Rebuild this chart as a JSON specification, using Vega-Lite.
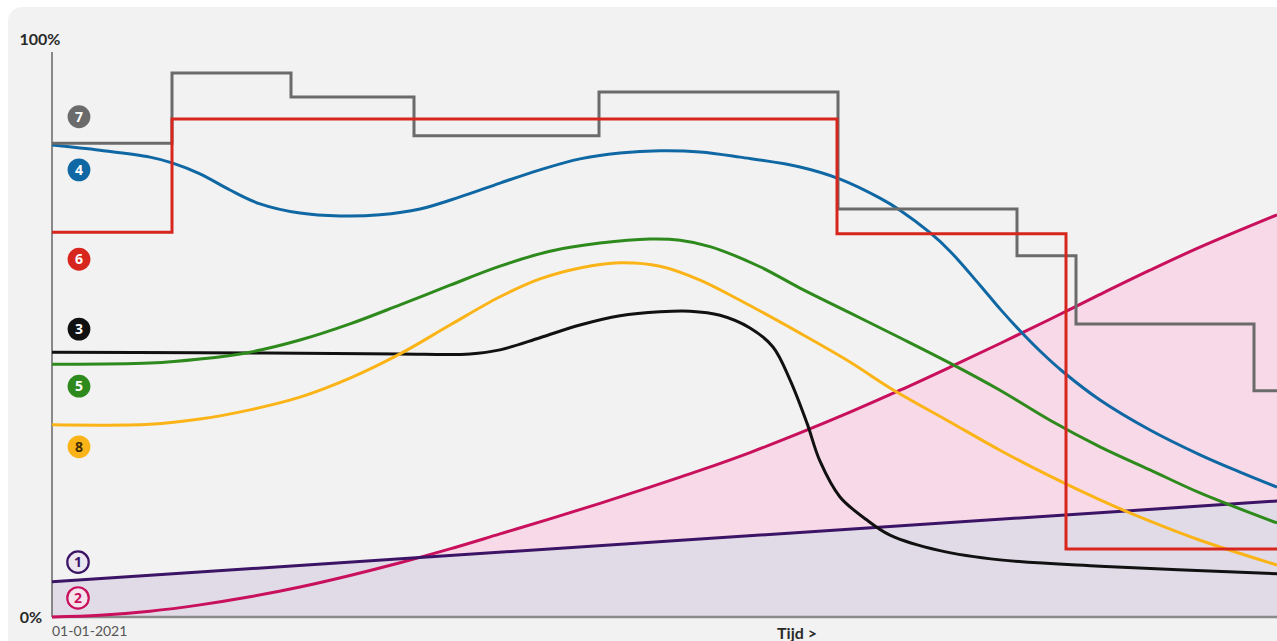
{
  "$schema": "https://vega.github.io/schema/vega-lite/v6.json",
  "width": 1225,
  "height": 577,
  "autosize": {"type": "none"},
  "padding": {"left": 52, "top": 40, "right": 0, "bottom": 24},
  "background": "#ffffff",
  "config": {"view": {"stroke": null}, "font": "Lato"},
  "datasets": {
    "bg": [{"t": -44, "t2": 1260, "v": 105.7, "v2": -6}],
    "steps": [
      {"s": "7", "t": 0, "v": 82.1}, {"s": "7", "t": 120, "v": 94.3}, {"s": "7", "t": 239, "v": 90.1},
      {"s": "7", "t": 362, "v": 83.4}, {"s": "7", "t": 547, "v": 91.0}, {"s": "7", "t": 786, "v": 70.7},
      {"s": "7", "t": 965, "v": 62.6}, {"s": "7", "t": 1024, "v": 50.8}, {"s": "7", "t": 1202, "v": 39.2},
      {"s": "7", "t": 1225, "v": 39.2},
      {"s": "6", "t": 0, "v": 66.7}, {"s": "6", "t": 120, "v": 86.3}, {"s": "6", "t": 785, "v": 66.4},
      {"s": "6", "t": 1014, "v": 11.8}, {"s": "6", "t": 1225, "v": 11.8}
    ],
    "pink": [
      {"s": "2", "t": 0, "v": 0}, {"s": "2", "t": 48, "v": 0.3}, {"s": "2", "t": 98, "v": 1.0},
      {"s": "2", "t": 148, "v": 2.1}, {"s": "2", "t": 198, "v": 3.5}, {"s": "2", "t": 248, "v": 5.2},
      {"s": "2", "t": 298, "v": 7.2}, {"s": "2", "t": 348, "v": 9.4}, {"s": "2", "t": 398, "v": 11.8},
      {"s": "2", "t": 448, "v": 14.4}, {"s": "2", "t": 498, "v": 17.0}, {"s": "2", "t": 548, "v": 19.7},
      {"s": "2", "t": 598, "v": 22.5}, {"s": "2", "t": 648, "v": 25.4}, {"s": "2", "t": 698, "v": 28.5},
      {"s": "2", "t": 748, "v": 31.9}, {"s": "2", "t": 798, "v": 35.5}, {"s": "2", "t": 848, "v": 39.3},
      {"s": "2", "t": 898, "v": 43.3}, {"s": "2", "t": 948, "v": 47.4}, {"s": "2", "t": 998, "v": 51.6},
      {"s": "2", "t": 1048, "v": 55.9}, {"s": "2", "t": 1098, "v": 60.1}, {"s": "2", "t": 1148, "v": 64.1},
      {"s": "2", "t": 1225, "v": 69.7}
    ],
    "purple": [
      {"s": "1", "t": 0, "v": 6.1}, {"s": "1", "t": 1225, "v": 20.1}
    ],
    "curves": [
      {"s": "3", "t": 0, "v": 45.9}, {"s": "3", "t": 148, "v": 45.8}, {"s": "3", "t": 248, "v": 45.7},
      {"s": "3", "t": 348, "v": 45.6}, {"s": "3", "t": 418, "v": 45.6}, {"s": "3", "t": 448, "v": 46.3},
      {"s": "3", "t": 488, "v": 48.4}, {"s": "3", "t": 528, "v": 50.6}, {"s": "3", "t": 568, "v": 52.2},
      {"s": "3", "t": 608, "v": 52.9}, {"s": "3", "t": 638, "v": 53.0}, {"s": "3", "t": 668, "v": 52.3},
      {"s": "3", "t": 698, "v": 50.1}, {"s": "3", "t": 721, "v": 46.8}, {"s": "3", "t": 738, "v": 41.1},
      {"s": "3", "t": 755, "v": 33.6}, {"s": "3", "t": 768, "v": 27.0}, {"s": "3", "t": 788, "v": 20.8},
      {"s": "3", "t": 815, "v": 16.8}, {"s": "3", "t": 838, "v": 14.2}, {"s": "3", "t": 888, "v": 11.5},
      {"s": "3", "t": 948, "v": 9.9}, {"s": "3", "t": 1048, "v": 8.8}, {"s": "3", "t": 1225, "v": 7.5},

      {"s": "8", "t": 0, "v": 33.3}, {"s": "8", "t": 98, "v": 33.4}, {"s": "8", "t": 148, "v": 34.3},
      {"s": "8", "t": 198, "v": 35.9}, {"s": "8", "t": 248, "v": 38.1}, {"s": "8", "t": 298, "v": 41.4},
      {"s": "8", "t": 348, "v": 45.6}, {"s": "8", "t": 398, "v": 50.6}, {"s": "8", "t": 448, "v": 55.5},
      {"s": "8", "t": 488, "v": 58.6}, {"s": "8", "t": 528, "v": 60.5}, {"s": "8", "t": 568, "v": 61.4},
      {"s": "8", "t": 608, "v": 60.8}, {"s": "8", "t": 648, "v": 58.4}, {"s": "8", "t": 688, "v": 54.9},
      {"s": "8", "t": 748, "v": 49.2}, {"s": "8", "t": 798, "v": 44.2}, {"s": "8", "t": 838, "v": 39.7},
      {"s": "8", "t": 898, "v": 33.8}, {"s": "8", "t": 948, "v": 28.9}, {"s": "8", "t": 998, "v": 24.4},
      {"s": "8", "t": 1048, "v": 20.3}, {"s": "8", "t": 1098, "v": 16.6}, {"s": "8", "t": 1148, "v": 13.3},
      {"s": "8", "t": 1225, "v": 9.0},

      {"s": "5", "t": 0, "v": 43.8}, {"s": "5", "t": 98, "v": 44.0}, {"s": "5", "t": 148, "v": 44.7},
      {"s": "5", "t": 198, "v": 45.9}, {"s": "5", "t": 248, "v": 48.0}, {"s": "5", "t": 298, "v": 50.8},
      {"s": "5", "t": 348, "v": 54.1}, {"s": "5", "t": 398, "v": 57.5}, {"s": "5", "t": 448, "v": 60.8},
      {"s": "5", "t": 498, "v": 63.4}, {"s": "5", "t": 548, "v": 64.8}, {"s": "5", "t": 598, "v": 65.5},
      {"s": "5", "t": 628, "v": 65.3}, {"s": "5", "t": 658, "v": 64.2}, {"s": "5", "t": 708, "v": 60.7},
      {"s": "5", "t": 748, "v": 57.0}, {"s": "5", "t": 798, "v": 52.7}, {"s": "5", "t": 848, "v": 48.4},
      {"s": "5", "t": 898, "v": 44.0}, {"s": "5", "t": 948, "v": 39.3}, {"s": "5", "t": 998, "v": 34.1},
      {"s": "5", "t": 1048, "v": 29.5}, {"s": "5", "t": 1098, "v": 25.5}, {"s": "5", "t": 1148, "v": 21.5},
      {"s": "5", "t": 1225, "v": 16.3},

      {"s": "4", "t": 0, "v": 81.8}, {"s": "4", "t": 48, "v": 80.9}, {"s": "4", "t": 98, "v": 79.7},
      {"s": "4", "t": 120, "v": 78.7}, {"s": "4", "t": 148, "v": 76.8}, {"s": "4", "t": 178, "v": 74.0},
      {"s": "4", "t": 208, "v": 71.6}, {"s": "4", "t": 248, "v": 70.0}, {"s": "4", "t": 288, "v": 69.5},
      {"s": "4", "t": 328, "v": 69.7}, {"s": "4", "t": 368, "v": 70.7}, {"s": "4", "t": 408, "v": 72.8},
      {"s": "4", "t": 448, "v": 75.2}, {"s": "4", "t": 488, "v": 77.5}, {"s": "4", "t": 528, "v": 79.4},
      {"s": "4", "t": 568, "v": 80.4}, {"s": "4", "t": 608, "v": 80.8}, {"s": "4", "t": 648, "v": 80.6},
      {"s": "4", "t": 688, "v": 79.7}, {"s": "4", "t": 748, "v": 78.0}, {"s": "4", "t": 788, "v": 75.9},
      {"s": "4", "t": 828, "v": 72.6}, {"s": "4", "t": 848, "v": 70.5}, {"s": "4", "t": 878, "v": 66.6},
      {"s": "4", "t": 898, "v": 63.4}, {"s": "4", "t": 928, "v": 57.5}, {"s": "4", "t": 948, "v": 53.4},
      {"s": "4", "t": 968, "v": 49.6}, {"s": "4", "t": 988, "v": 46.1}, {"s": "4", "t": 1011, "v": 42.5},
      {"s": "4", "t": 1048, "v": 37.6}, {"s": "4", "t": 1098, "v": 32.4}, {"s": "4", "t": 1148, "v": 28.1},
      {"s": "4", "t": 1188, "v": 25.1}, {"s": "4", "t": 1225, "v": 22.5}
    ],
    "labels": [
      {"s": "7", "t": 27, "v": 86.7}, {"s": "4", "t": 27, "v": 77.5}, {"s": "6", "t": 27, "v": 62.0},
      {"s": "3", "t": 27, "v": 49.9}, {"s": "5", "t": 27, "v": 40.0}, {"s": "8", "t": 27, "v": 29.5},
      {"s": "1", "t": 26, "v": 9.5}, {"s": "2", "t": 26, "v": 3.3}
    ],
    "boldNotes": [
      {"label": "100%", "t": -12, "v": 100},
      {"label": "0%", "t": -21, "v": -0.2},
      {"label": "Tijd >", "t": 745, "v": -3.0}
    ],
    "plainNotes": [
      {"label": "01-01-2021", "t": 0, "v": -2.6}
    ],
    "vrule": [{"t": 0, "v": 0, "v2": 97.9}],
    "hrule": [{"t": 0, "t2": 1225, "v": 0}]
  },
  "layer": [
    {
      "data": {"name": "bg"},
      "mark": {"type": "rect", "fill": "#f2f2f2", "cornerRadius": 14},
      "encoding": {
        "x": {"field": "t", "type": "quantitative", "scale": {"domain": [0, 1225], "nice": false, "zero": false}, "axis": null},
        "x2": {"field": "t2"},
        "y": {"field": "v", "type": "quantitative", "scale": {"domain": [0, 100], "nice": false}, "axis": null},
        "y2": {"field": "v2"}
      }
    },
    {
      "data": {"name": "pink"},
      "mark": {"type": "area", "fill": "#f7d9e7", "interpolate": "catmull-rom"},
      "encoding": {
        "x": {"field": "t", "type": "quantitative"},
        "y": {"field": "v", "type": "quantitative"}
      }
    },
    {
      "data": {"name": "purple"},
      "mark": {"type": "area", "fill": "#e1dbe8"},
      "encoding": {
        "x": {"field": "t", "type": "quantitative"},
        "y": {"field": "v", "type": "quantitative"}
      }
    },
    {
      "data": {"name": "vrule"},
      "mark": {"type": "rule", "color": "#666666", "strokeWidth": 1.5},
      "encoding": {
        "x": {"field": "t", "type": "quantitative"},
        "y": {"field": "v", "type": "quantitative"},
        "y2": {"field": "v2"}
      }
    },
    {
      "data": {"name": "hrule"},
      "mark": {"type": "rule", "color": "#8a8a8a", "strokeWidth": 2.5},
      "encoding": {
        "x": {"field": "t", "type": "quantitative"},
        "x2": {"field": "t2"},
        "y": {"field": "v", "type": "quantitative"}
      }
    },
    {
      "data": {"name": "pink"},
      "mark": {"type": "line", "interpolate": "catmull-rom", "strokeWidth": 3},
      "encoding": {
        "x": {"field": "t", "type": "quantitative"},
        "y": {"field": "v", "type": "quantitative"},
        "color": {"field": "s", "type": "nominal", "legend": null,
          "scale": {"domain": ["1","2","3","4","5","6","7","8"], "range": ["#3b1466","#c8105c","#111111","#0f68a3","#2e8a1c","#d7261e","#6b6b6b","#fbb417"]}}
      }
    },
    {
      "data": {"name": "purple"},
      "mark": {"type": "line", "strokeWidth": 3},
      "encoding": {
        "x": {"field": "t", "type": "quantitative"},
        "y": {"field": "v", "type": "quantitative"},
        "color": {"field": "s", "type": "nominal", "legend": null}
      }
    },
    {
      "data": {"name": "curves"},
      "mark": {"type": "line", "interpolate": "catmull-rom", "strokeWidth": 3},
      "encoding": {
        "x": {"field": "t", "type": "quantitative"},
        "y": {"field": "v", "type": "quantitative"},
        "color": {"field": "s", "type": "nominal", "legend": null}
      }
    },
    {
      "data": {"name": "steps"},
      "mark": {"type": "line", "interpolate": "step-after", "strokeWidth": 3},
      "encoding": {
        "x": {"field": "t", "type": "quantitative"},
        "y": {"field": "v", "type": "quantitative"},
        "color": {"field": "s", "type": "nominal", "legend": null}
      }
    },
    {
      "data": {"name": "labels"},
      "transform": [{"filter": "datum.s !== '1' && datum.s !== '2'"}],
      "mark": {"type": "point", "shape": "circle", "filled": true, "opacity": 1, "size": 520},
      "encoding": {
        "x": {"field": "t", "type": "quantitative"},
        "y": {"field": "v", "type": "quantitative"},
        "color": {"field": "s", "type": "nominal", "legend": null}
      }
    },
    {
      "data": {"name": "labels"},
      "transform": [{"filter": "datum.s === '1' || datum.s === '2'"}],
      "mark": {"type": "point", "shape": "circle", "filled": true, "opacity": 1, "size": 460},
      "encoding": {
        "x": {"field": "t", "type": "quantitative"},
        "y": {"field": "v", "type": "quantitative"},
        "fill": {"condition": {"test": "datum.s === '1'", "value": "#ebe6ef"}, "value": "#f6e4ed"}
      }
    },
    {
      "data": {"name": "labels"},
      "transform": [{"filter": "datum.s === '1' || datum.s === '2'"}],
      "mark": {"type": "point", "shape": "circle", "filled": false, "opacity": 1, "size": 460, "strokeWidth": 2.2},
      "encoding": {
        "x": {"field": "t", "type": "quantitative"},
        "y": {"field": "v", "type": "quantitative"},
        "color": {"field": "s", "type": "nominal", "legend": null}
      }
    },
    {
      "data": {"name": "labels"},
      "mark": {"type": "text", "fontWeight": "bold", "fontSize": 14, "baseline": "middle", "align": "center", "dy": 1, "font": "Open Sans"},
      "encoding": {
        "x": {"field": "t", "type": "quantitative"},
        "y": {"field": "v", "type": "quantitative"},
        "text": {"field": "s"},
        "color": {"condition": [
          {"test": "datum.s === '1'", "value": "#3b1466"},
          {"test": "datum.s === '2'", "value": "#c8105c"},
          {"test": "datum.s === '8'", "value": "#3d2c00"}
        ], "value": "#ffffff"}
      }
    },
    {
      "data": {"name": "boldNotes"},
      "mark": {"type": "text", "fontWeight": "bold", "fontSize": 16, "baseline": "middle", "align": "center", "color": "#2a2a2a"},
      "encoding": {
        "x": {"field": "t", "type": "quantitative"},
        "y": {"field": "v", "type": "quantitative"},
        "text": {"field": "label"}
      }
    },
    {
      "data": {"name": "plainNotes"},
      "mark": {"type": "text", "fontSize": 14, "baseline": "middle", "align": "left", "color": "#555555"},
      "encoding": {
        "x": {"field": "t", "type": "quantitative"},
        "y": {"field": "v", "type": "quantitative"},
        "text": {"field": "label"}
      }
    }
  ]
}
